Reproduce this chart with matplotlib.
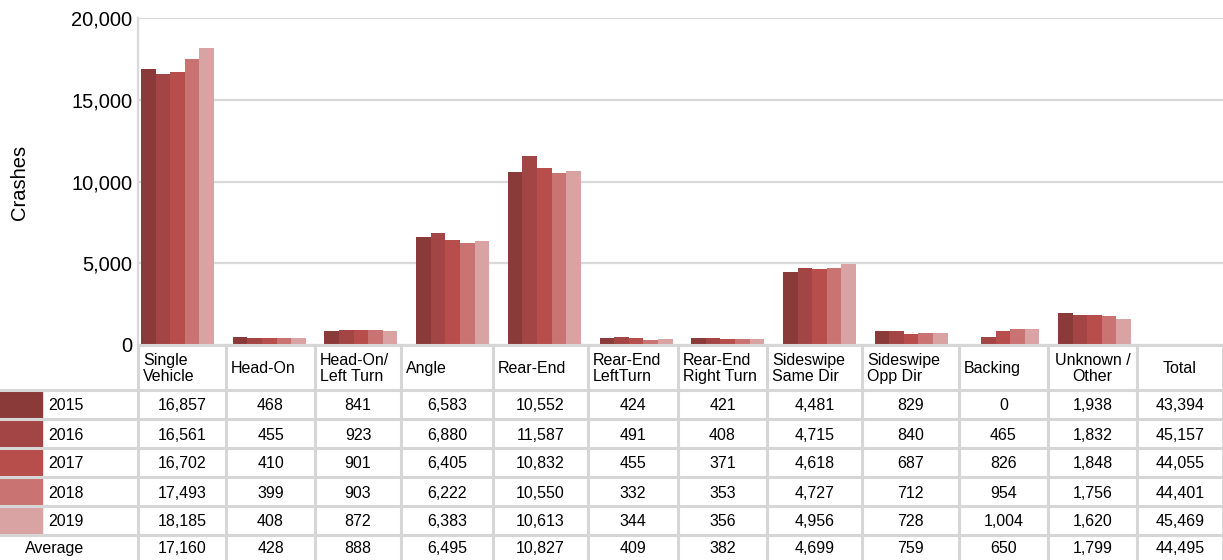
import numpy as np
import matplotlib
matplotlib.use("Agg")
import matplotlib.pyplot as plt
from matplotlib.lines import Line2D
from matplotlib.patches import Rectangle

plt.rcParams['font.family'] = ['Liberation Sans', 'DejaVu Sans']

# crash types (x axis / table header)
categories = ["Single\nVehicle", "Head-On", "Head-On/\nLeft Turn", "Angle", "Rear-End",
              "Rear-End\nLeftTurn", "Rear-End\nRight Turn", "Sideswipe\nSame Dir",
              "Sideswipe\nOpp Dir", "Backing", "Unknown /\nOther"]
years = ["2015", "2016", "2017", "2018", "2019"]

crashes_2015 = [16857, 468, 841, 6583, 10552, 424, 421, 4481, 829, 0, 1938]
crashes_2016 = [16561, 455, 923, 6880, 11587, 491, 408, 4715, 840, 465, 1832]
crashes_2017 = [16702, 410, 901, 6405, 10832, 455, 371, 4618, 687, 826, 1848]
crashes_2018 = [17493, 399, 903, 6222, 10550, 332, 353, 4727, 712, 954, 1756]
crashes_2019 = [18185, 408, 872, 6383, 10613, 344, 356, 4956, 728, 1004, 1620]

colors = ["#8B3A3A", "#A44545", "#B84E4B", "#C97472", "#D9A2A3"]

series = [crashes_2015, crashes_2016, crashes_2017, crashes_2018, crashes_2019]
data = np.array(series)
totals = data.sum(axis=1)
avg = data.mean(axis=0)
avg_total = totals.mean()

W, H = 1223, 560
fig = plt.figure(figsize=(W / 100, H / 100), dpi=100)

def fx(x):
    return x / W

def fy(y):
    return 1 - y / H

# chart area (pixel layout)
ax_l, ax_r, ax_t, ax_b = 138, 1223, 18, 345
ax = fig.add_axes([fx(ax_l), fy(ax_b), fx(ax_r - ax_l), (ax_b - ax_t) / H])

slot = 91.7
first_center = 177.5
x0 = -(first_center - ax_l) / slot
x1 = (ax_r - first_center) / slot
bw = 14.6 / slot

x = np.arange(len(categories))
for i, (vals, c) in enumerate(zip(series, colors)):
    ax.bar(x + (i - 2) * bw, vals, width=bw, color=c, zorder=3, linewidth=0)

ax.set_xlim(x0, x1)
ax.set_ylim(0, 20000)
ax.set_yticks([0, 5000, 10000, 15000, 20000])
ax.set_yticklabels(["{:,}".format(v) for v in [0, 5000, 10000, 15000, 20000]], fontsize=14.5)
ax.set_xticks([])
ax.tick_params(axis='y', length=0, pad=4)
ax.grid(axis='y', color='#D9D9D9', linewidth=1.6, zorder=0)
for s in ['top', 'right', 'bottom']:
    ax.spines[s].set_visible(False)
ax.spines['left'].set_color('#D9D9D9')
ax.spines['left'].set_linewidth(1.6)
fig.text(fx(20), fy(182), "Crashes", rotation=90, fontsize=14.5, ha='center', va='center')

# table layout
col_edges = [138, 226, 315, 401, 493, 588, 678, 767, 862, 959, 1048, 1137, 1223]
row_edges = [345, 390, 419, 448, 477, 506, 535, 564]
grid_c = '#D6D6D6'
lw = 2.2
fs = 11.5

def hline(y, xa, xb):
    fig.add_artist(Line2D([fx(xa), fx(xb)], [fy(y), fy(y)], color=grid_c, lw=lw,
                          transform=fig.transFigure, zorder=5))

def vline(xp, ya, yb):
    fig.add_artist(Line2D([fx(xp), fx(xp)], [fy(ya), fy(yb)], color=grid_c, lw=lw,
                          transform=fig.transFigure, zorder=5))

hline(row_edges[0], col_edges[0], W)
for y in row_edges[1:]:
    hline(y, 0, W)
for xe in col_edges:
    vline(xe, row_edges[0], row_edges[-1])

# header
headers = categories + ["Total"]
yc = (row_edges[0] + row_edges[1]) / 2 + 1
for j, h in enumerate(headers):
    if j >= 10:
        fig.text(fx((col_edges[j] + col_edges[j + 1]) / 2), fy(yc), h, ha='center', va='center',
                 fontsize=fs, linespacing=1.12, multialignment='center')
    else:
        fig.text(fx(col_edges[j] + 5), fy(yc), h, ha='left', va='center',
                 fontsize=fs, linespacing=1.12)

# year rows
for i, yr in enumerate(years):
    ya, yb = row_edges[i + 1], row_edges[i + 2]
    ym = (ya + yb) / 2 + 1.5
    fig.add_artist(Rectangle((0, fy(yb - 1)), fx(42), (yb - ya - 2) / H, color=colors[i],
                             transform=fig.transFigure, zorder=4))
    fig.text(fx(48), fy(ym), yr, ha='left', va='center', fontsize=fs)
    row = list(series[i]) + [totals[i]]
    for j, v in enumerate(row):
        fig.text(fx((col_edges[j] + col_edges[j + 1]) / 2), fy(ym),
                 "{:,}".format(int(v)), ha='center', va='center', fontsize=fs)

# average row
ym = (row_edges[6] + row_edges[7]) / 2 - 1
fig.text(fx(55), fy(ym), "Average", ha='center', va='center', fontsize=fs)
for j, v in enumerate(list(avg) + [avg_total]):
    fig.text(fx((col_edges[j] + col_edges[j + 1]) / 2), fy(ym),
             "{:,}".format(int(round(v))), ha='center', va='center', fontsize=fs)

fig.savefig("out.png", dpi=100)
